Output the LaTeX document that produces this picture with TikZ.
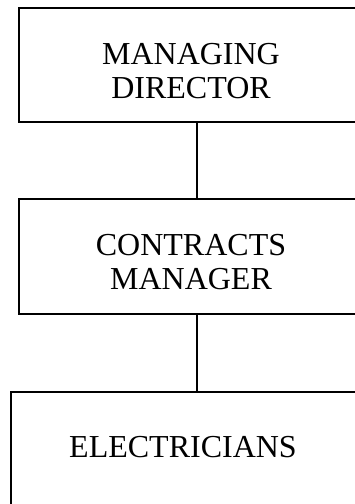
\documentclass[tikz,border=0pt]{standalone}
\usepackage{fontspec}
\setmainfont{Liberation Serif}
\begin{document}
\begin{tikzpicture}[x=1pt,y=-1pt,
  box/.style={draw=black,line width=1.4pt,rectangle,inner sep=0pt},
  lbl/.style={inner sep=0pt,align=center,font=\fontsize{32}{34}\selectfont},
  conn/.style={draw=black,line width=1.4pt}]
\useasboundingbox (0,0) rectangle (355,504);
\clip (0,0) rectangle (355,504);
\fill[white] (0,0) rectangle (355,504);
\node[box,minimum width=344pt,minimum height=114pt] (md) at (191,65) {};
\node[box,minimum width=344pt,minimum height=115pt] (cm) at (191,256.5) {};
\node[box,minimum width=346pt,minimum height=130pt] (el) at (184,457) {};
\node[lbl] (mdt) at (191,71) {MANAGING\\DIRECTOR};
\node[lbl] (cmt) at (191,262) {CONTRACTS\\MANAGER};
\node[lbl] (elt) at (183,447.5) {ELECTRICIANS};
\draw[conn] (md.south -| 197,0) -- (cm.north -| 197,0);
\draw[conn] (cm.south -| 197,0) -- (el.north -| 197,0);
\end{tikzpicture}
\end{document}
